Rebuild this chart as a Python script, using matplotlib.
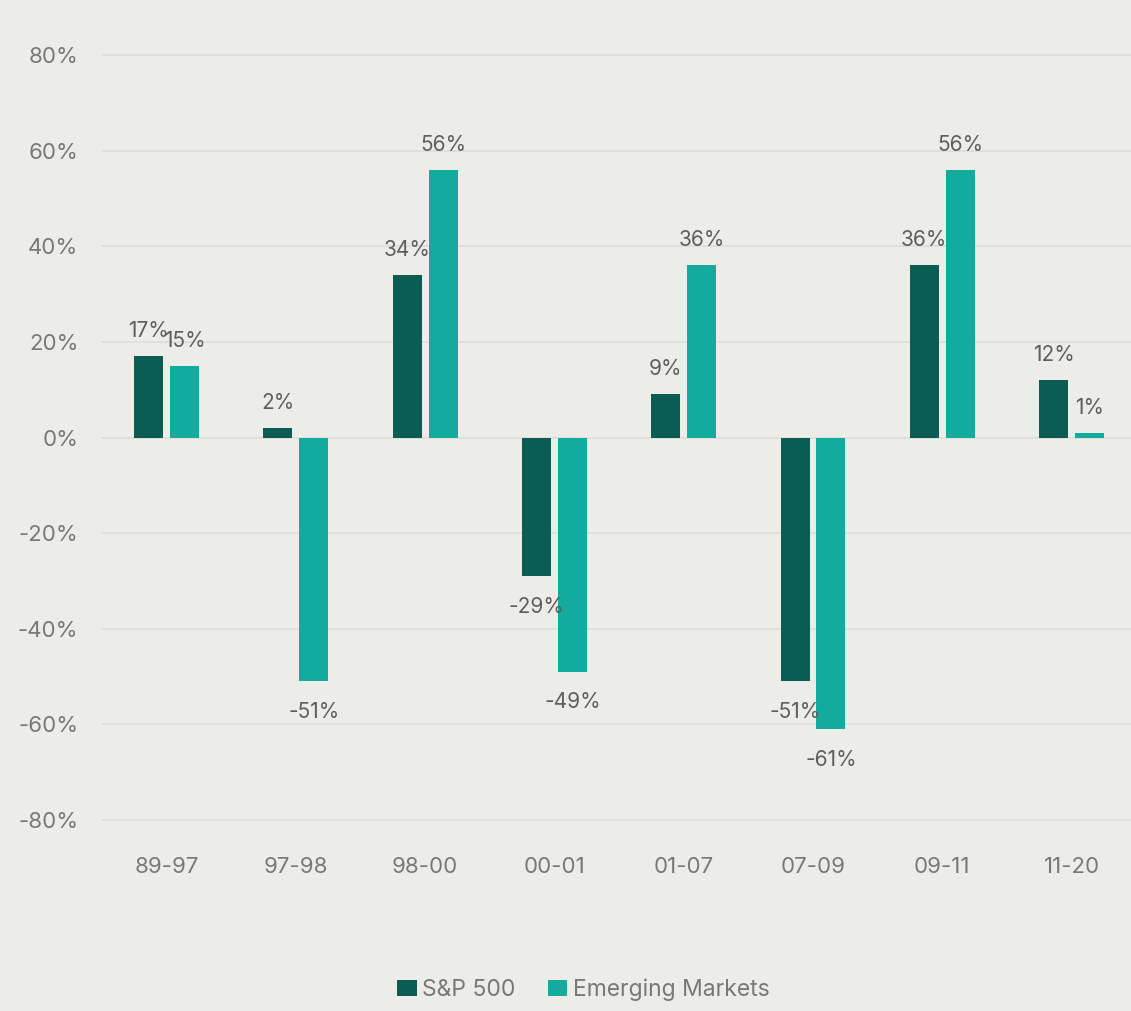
import numpy as np
import matplotlib.pyplot as plt

# Chart data
periods = ["89-97", "97-98", "98-00", "00-01", "01-07", "07-09", "09-11", "11-20"]
sp500 = [17, 2, 34, -29, 9, -51, 36, 12]
emerging = [15, -51, 56, -49, 36, -61, 56, 1]
yticks = [-80, -60, -40, -20, 0, 20, 40, 60, 80]

# Style
bg = "#ecece9"
c_sp = "#0b5c52"
c_em = "#12ab9d"
tick_color = "#787878"
label_color = "#5e5e5e"
plt.rcParams["font.family"] = ["Inter", "DejaVu Sans"]

fig = plt.figure(figsize=(11.31, 10.11), dpi=100, facecolor=bg)
ax = fig.add_axes([0.0902, 0.1794, 0.9098, 0.7757], facecolor=bg)

x = np.arange(len(periods))
w = 0.224
off = 0.139
b1 = ax.bar(x - off, sp500, w, color=c_sp, label="S&P 500", zorder=3)
b2 = ax.bar(x + off, emerging, w, color=c_em, label="Emerging Markets", zorder=3)

# value labels
for bars, vals in [(b1, sp500), (b2, emerging)]:
    for rect, v in zip(bars, vals):
        cx = rect.get_x() + rect.get_width() / 2
        dy = 18 if v >= 0 else -22
        ax.annotate(f"{v}%", (cx, v), xytext=(0, dy), textcoords="offset points",
                    ha="center", va="center", fontsize=15, color=label_color)

ax.set_xlim(-0.5, 7.46)
ax.set_ylim(-82, 82)
ax.set_yticks(yticks)
ax.set_yticklabels([f"{t}%" for t in yticks])
ax.set_xticks(x)
ax.set_xticklabels(periods)
ax.tick_params(axis="y", length=0, pad=17, labelsize=16, labelcolor=tick_color)
ax.tick_params(axis="x", length=0, pad=20, labelsize=16, labelcolor=tick_color)
ax.grid(axis="y", color="#dcdcd8", linewidth=1.1, zorder=0)
for s in ax.spines.values():
    s.set_visible(False)

leg = fig.legend(handles=[b1, b2], loc="center", bbox_to_anchor=(0.516, 0.021),
                 ncol=2, frameon=False, fontsize=16.5, handlelength=0.85,
                 handleheight=0.75, handletextpad=0.25, columnspacing=1.4)
for t in leg.get_texts():
    t.set_color(tick_color)

fig.savefig("out.png", dpi=100, facecolor=bg)
